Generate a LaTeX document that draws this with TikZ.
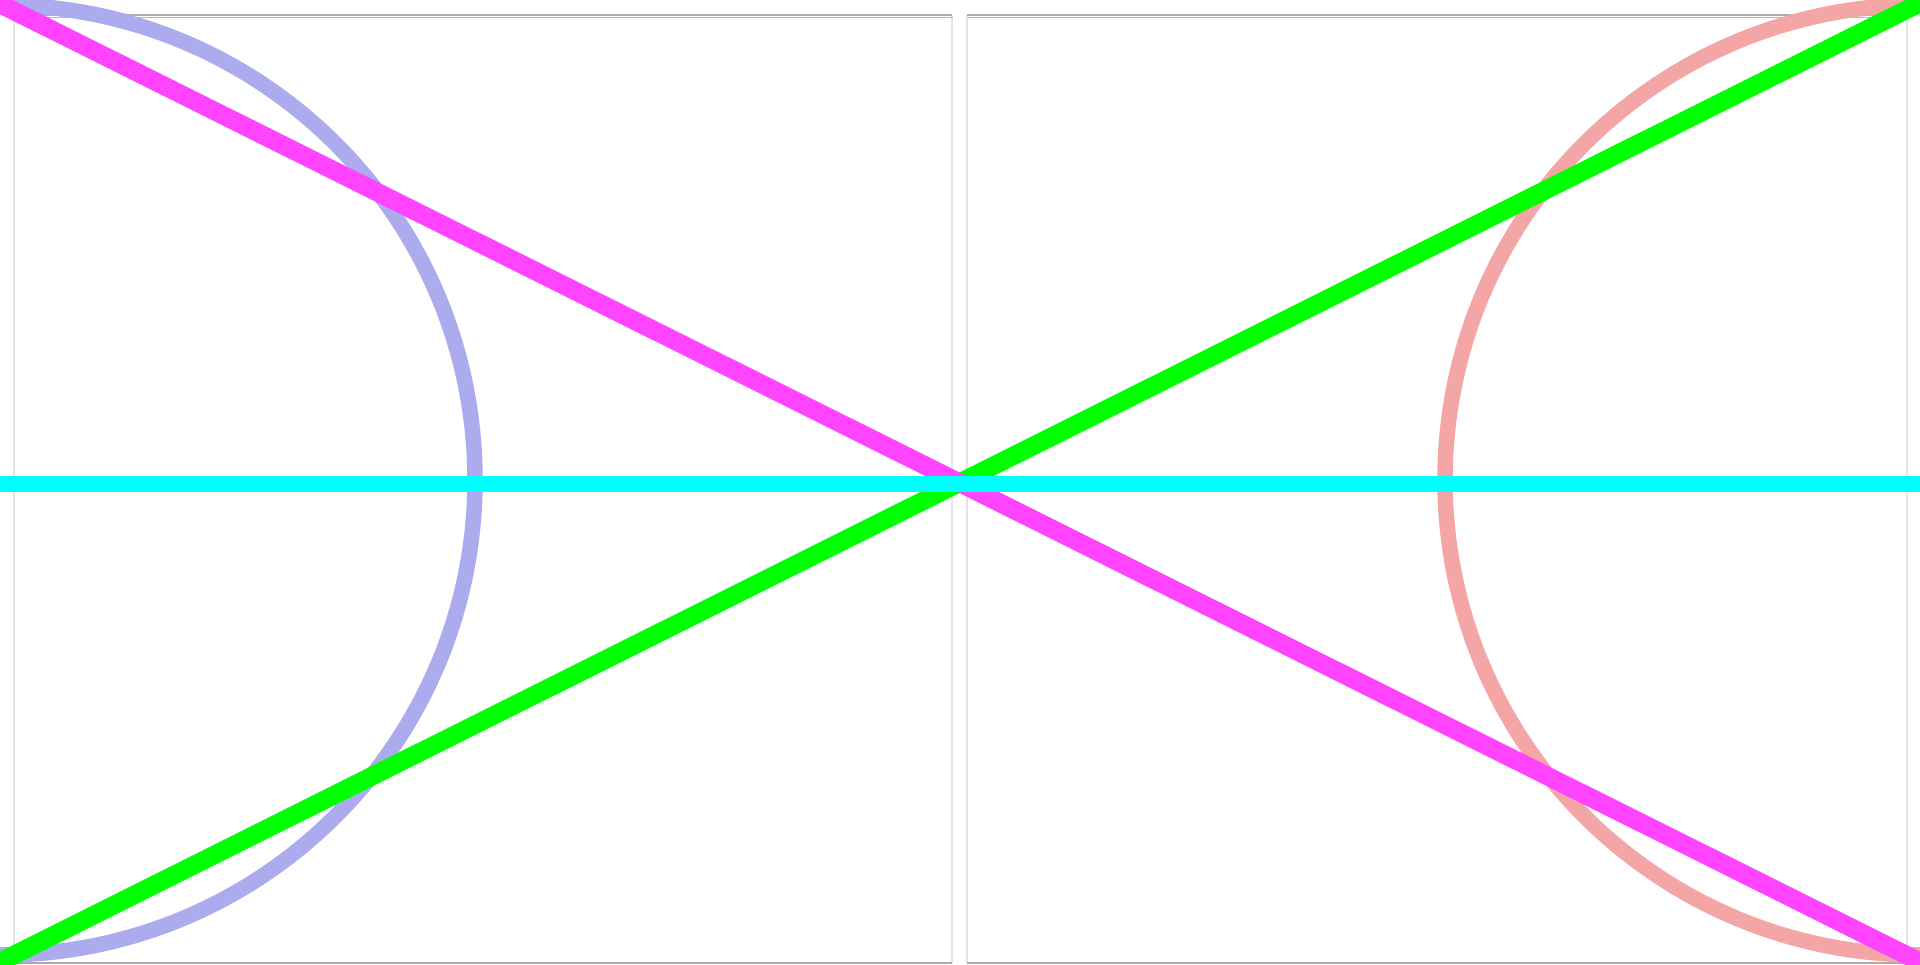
\documentclass[tikz,border=0pt]{standalone}
\definecolor{arcblue}{RGB}{171,171,238}
\definecolor{arcpink}{RGB}{244,166,166}
\definecolor{linemagenta}{RGB}{255,68,255}
\definecolor{linegreen}{RGB}{0,255,0}
\definecolor{linecyan}{RGB}{0,255,255}
\begin{document}
\begin{tikzpicture}[
    shadowed/.style={preaction={draw=black,draw opacity=0.28,
      transform canvas={shift={(0.35pt,-0.8pt)}}}},
    thickline/.style={line width=0.155cm,shadowed},
    diagline/.style={line width=0.185cm,shadowed}]
    \useasboundingbox (0,0) rectangle (19.2,9.65);
    \clip (0,0) rectangle (19.2,9.65);
    % frames of the two panels
    \draw[gray!20,line width=0.6pt] (0.14,0.02) -- (0.14,9.5);
    \draw[gray!20,line width=0.6pt] (9.52,0.02) -- (9.52,9.5);
    \draw[gray!20,line width=0.6pt] (9.67,0.02) -- (9.67,9.5);
    \draw[gray!20,line width=0.6pt] (19.07,0.02) -- (19.07,9.5);
    \draw[gray!65,line width=0.6pt,shadowed] (0.14,9.5) -- (9.52,9.5);
    \draw[gray!65,line width=0.6pt,shadowed] (9.67,9.5) -- (19.07,9.5);
    \draw[gray!65,line width=0.6pt] (0.14,0.02) -- (9.52,0.02);
    \draw[gray!65,line width=0.6pt] (9.67,0.02) -- (19.07,0.02);
    % arcs
    \draw[thickline,arcblue] (0,4.85) circle (4.75);
    \draw[thickline,arcpink] (19.2,4.85) circle (4.75);
    % diagonals
    \draw[diagline,linegreen] (-0.2,-0.07) -- (19.4,9.72);
    \draw[diagline,linemagenta] (-0.2,9.71) -- (19.4,-0.07);
    % axis
    \draw[thickline,linecyan] (-0.1,4.81) -- (19.3,4.81);
  \end{tikzpicture}
\end{document}
